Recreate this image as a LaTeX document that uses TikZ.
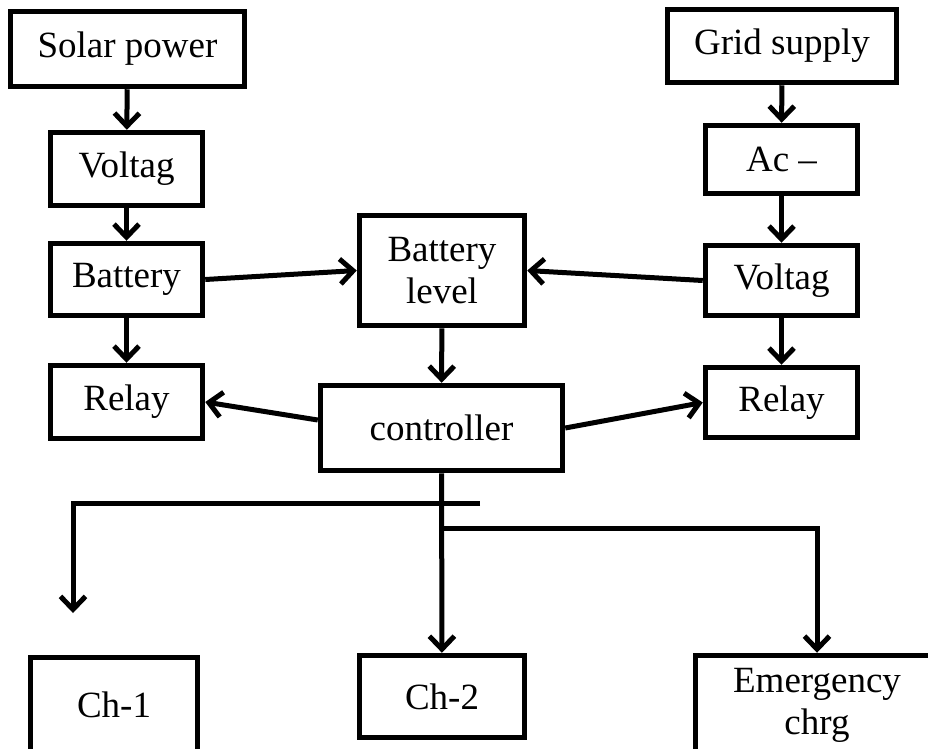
\documentclass[tikz,border=0pt]{standalone}
\usepackage{fontspec}
\setmainfont{Liberation Serif}
\usetikzlibrary{arrows.meta}

\begin{document}
\begin{tikzpicture}[x=1pt, y=-1pt, >={Straight Barb[length=13pt,width=25pt]},
    blk/.style={draw, line width=5.5pt, inner sep=0pt, align=center,
        font=\fontsize{37}{42}\selectfont},
    link/.style={->, line width=5pt}]
    \useasboundingbox (0,0) rectangle (928,748);
    \clip (0,0) rectangle (928,748);
    % solar side
    \node[blk, minimum width=234pt, minimum height=75pt] (solar) at (127.5,49) {Solar power};
    \node[blk, minimum width=152pt, minimum height=73pt] (voltL) at (126.5,169) {Voltag};
    \node[blk, minimum width=152pt, minimum height=72pt] (battL) at (126.5,279.5) {Battery};
    \node[blk, minimum width=152pt, minimum height=73pt] (relayL) at (126.5,402) {Relay};
    % grid side
    \node[blk, minimum width=229pt, minimum height=73pt] (grid) at (782,46) {Grid supply};
    \node[blk, minimum width=152pt, minimum height=68pt] (acdc) at (781.5,159.5) {Ac --};
    \node[blk, minimum width=152pt, minimum height=70pt] (voltR) at (781.5,280.5) {Voltag};
    \node[blk, minimum width=152pt, minimum height=70pt] (relayR) at (781.5,402.5) {Relay};
    % middle
    \node[blk, minimum width=165pt, minimum height=110pt] (level) at (442,270.5) {Battery\\level};
    \node[blk, minimum width=242pt, minimum height=85pt] (ctrl) at (441.5,428) {controller};
    % outputs
    \node[blk, minimum width=167pt, minimum height=95pt] (ch1) at (114,705) {Ch-1};
    \node[blk, minimum width=165pt, minimum height=82pt] (ch2) at (442,696.5) {Ch-2};
    \node[blk, minimum width=243pt, minimum height=115pt, text depth=24pt] (emg) at (817,713) {Emergency\\chrg};

    \draw[link] (solar) -- (voltL);
    \draw[link] (voltL) -- (battL);
    \draw[link] (battL) -- (relayL);
    \draw[link] (grid) -- (acdc);
    \draw[link] (acdc) -- (voltR);
    \draw[link] (voltR) -- (relayR);
    \draw[link] (battL.east) -- (level.west);
    \draw[link] (voltR.west) -- (level.east);
    \draw[link] (level) -- (ctrl);
    \draw[link] ([yshift=8pt]ctrl.west) -- (relayL.east);
    \draw[link] (ctrl.east) -- (relayR.west);
    \draw[link] (ctrl) -- (ch2);

    % branch lines
    \coordinate (barEnd) at (480,503);
    \coordinate (ch1Tip) at (73,613);
    \coordinate (split) at (442,528);
    \draw[link] (barEnd) -| (ch1Tip);
    \draw[link] (split) -| (emg.north);
\end{tikzpicture}
\end{document}
